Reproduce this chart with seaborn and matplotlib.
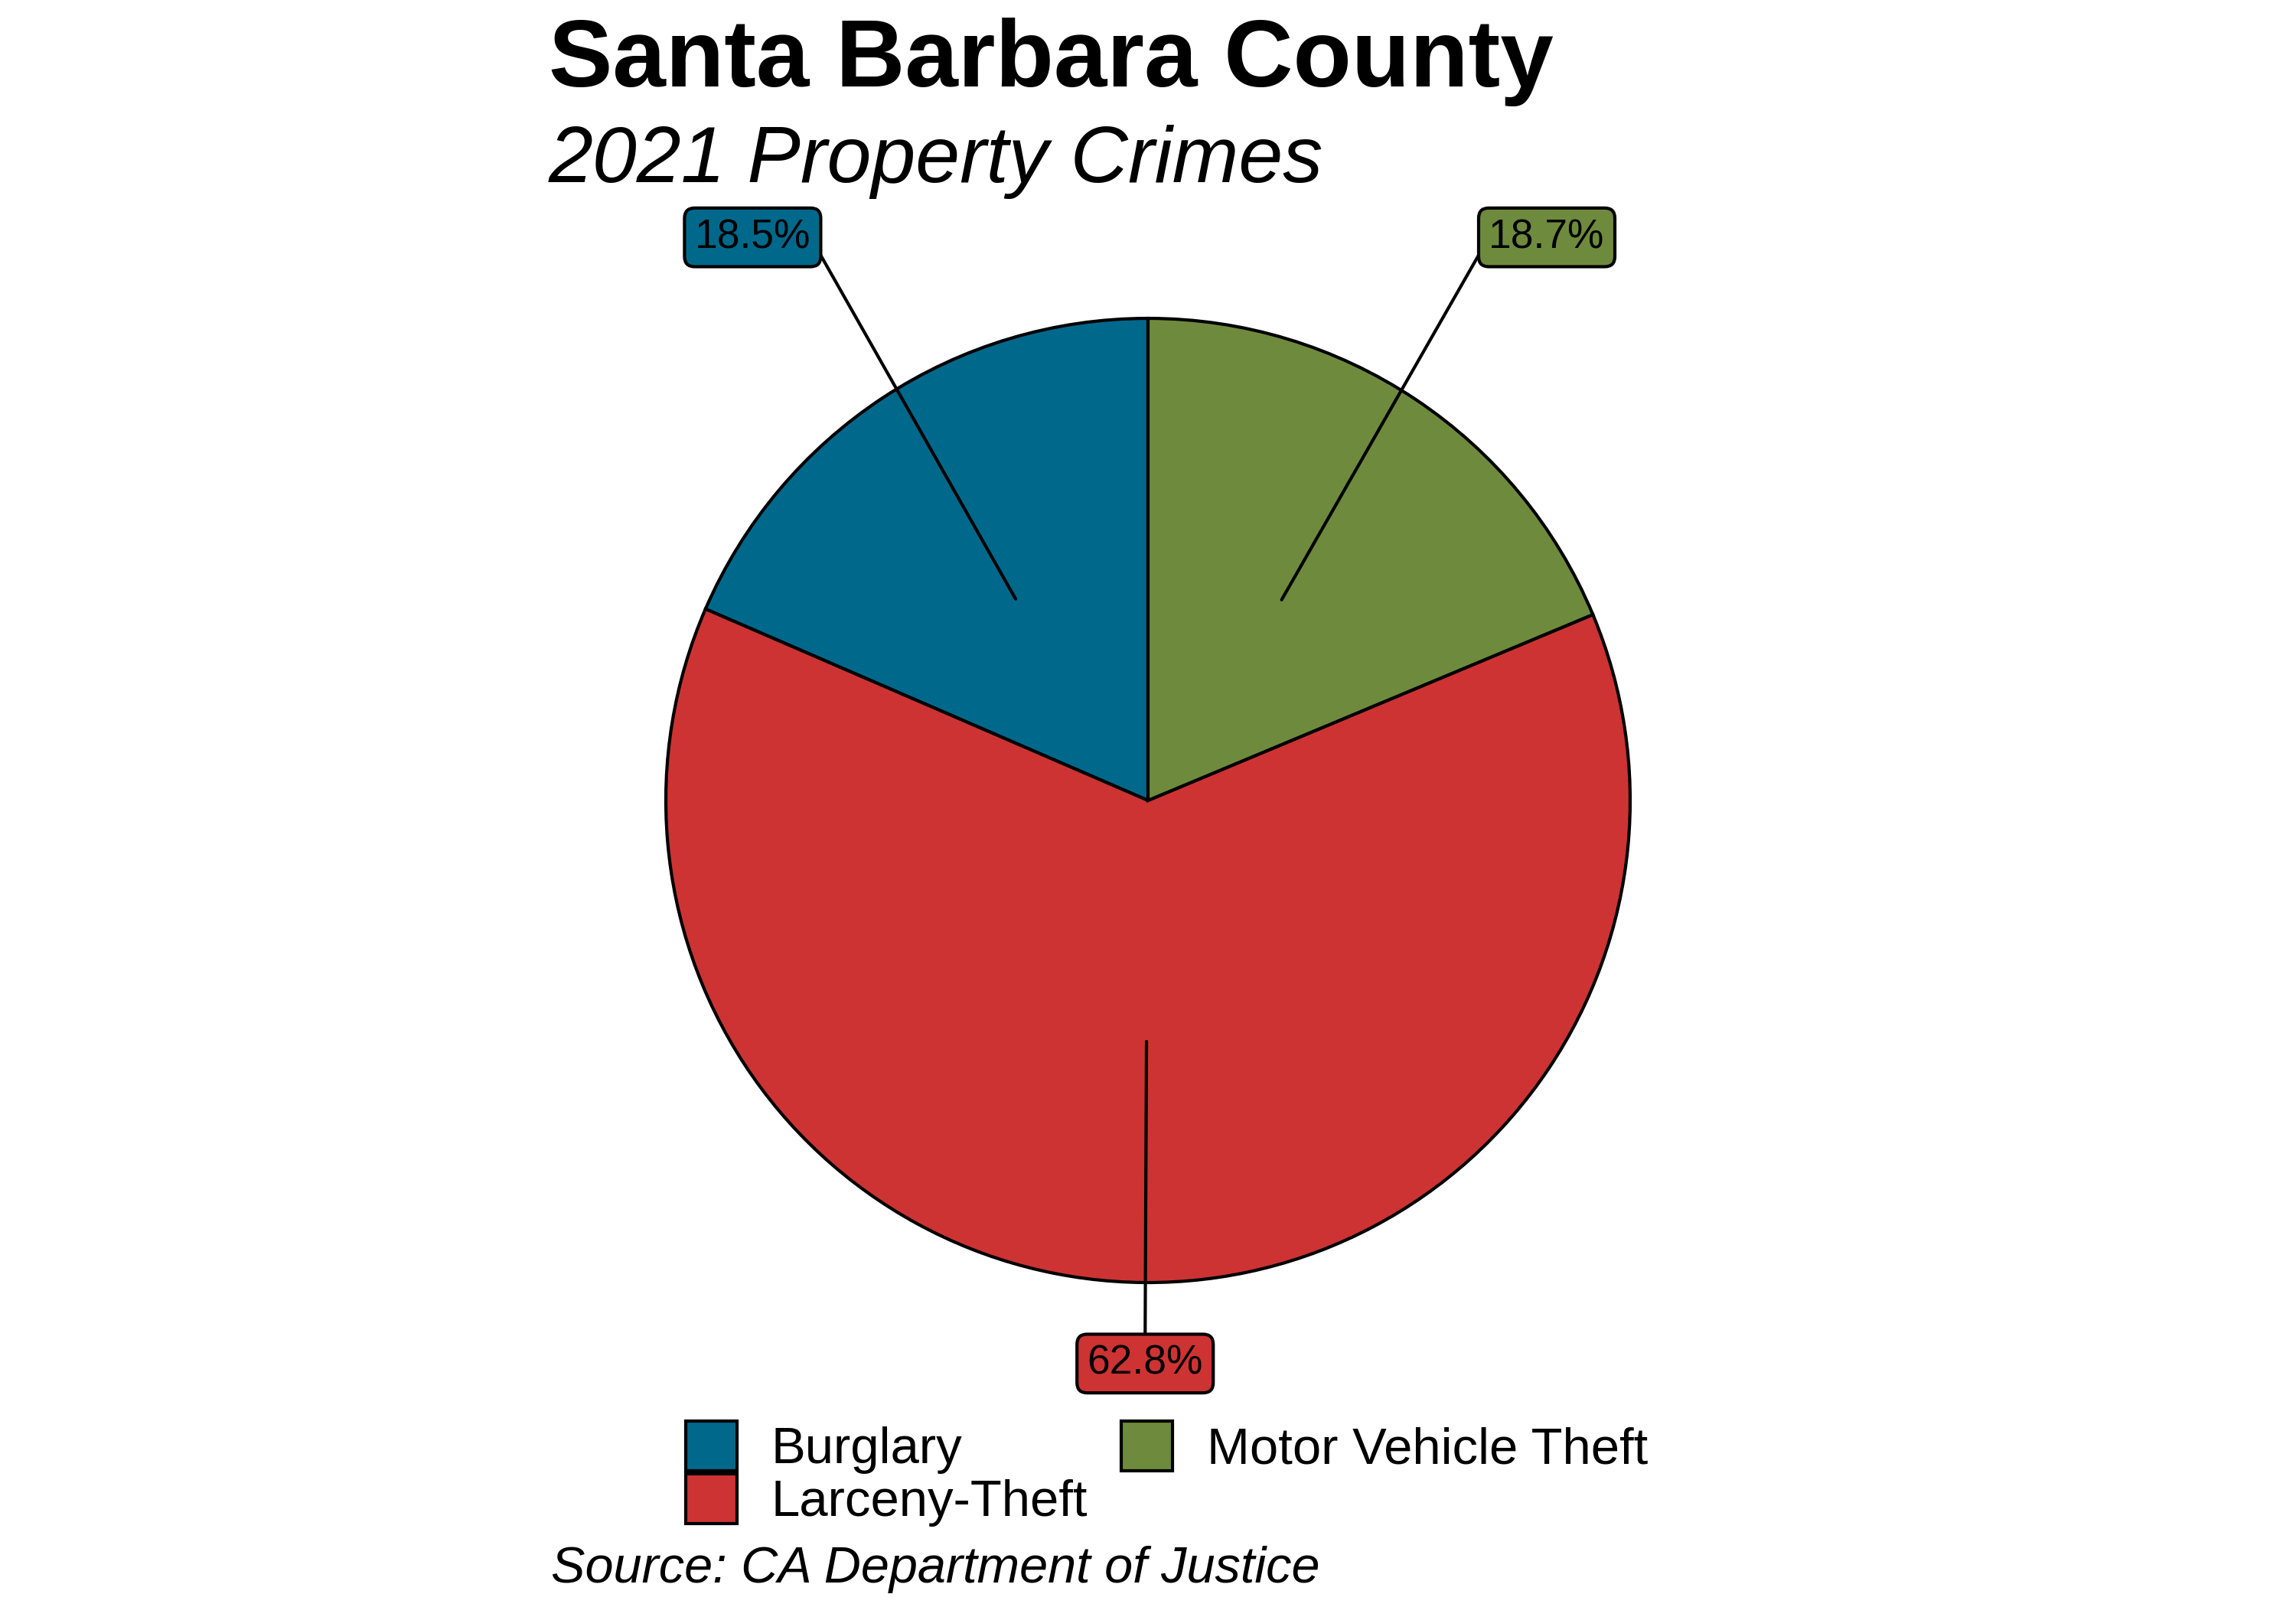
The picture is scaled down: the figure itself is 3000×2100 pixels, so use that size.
import numpy as np
import matplotlib
matplotlib.use("Agg")
import matplotlib.pyplot as plt
import seaborn as sns
from matplotlib.patches import Patch

categories = ["Burglary", "Larceny-Theft", "Motor Vehicle Theft"]
shares = [18.5, 62.8, 18.7]
colors = ["#00688B", "#CD3333", "#6E8B3D"]

# where the repelled labels sit (data units, pie radius = 1)
label_pos = [(-0.82, 1.168), (-0.006, -1.168), (0.827, 1.168)]

sns.set_theme(style="white")
plt.rcParams["font.family"] = ["Liberation Sans", "DejaVu Sans"]
plt.rcParams["text.color"] = "black"

fig = plt.figure(figsize=(10, 7), dpi=300)
ax = fig.add_axes([0.08, 0.0219, 0.84, 0.96])

wedges, _ = ax.pie(shares, colors=colors, startangle=90, counterclock=True,
                   wedgeprops=dict(edgecolor="black", linewidth=1.0))
ax.set_xlim(-2, 2)
ax.set_ylim(-1.6, 1.6)
ax.set_aspect("auto")
ax.axis("off")

for w, val, col, (lx, ly) in zip(wedges, shares, colors, label_pos):
    mid = np.deg2rad((w.theta1 + w.theta2) / 2)
    px, py = 0.5 * np.cos(mid), 0.5 * np.sin(mid)
    # connect the segment to the nearest side of the label box
    if abs(lx) > 0.3:
        rel = (1.0 if lx < 0 else 0.0, 0.5)
    else:
        rel = (0.5, 1.0 if ly < 0 else 0.0)
    ax.annotate(f"{val:.1f}%", xy=(px, py), xytext=(lx, ly),
                ha="center", va="center", fontsize=12.8, color="black",
                bbox=dict(boxstyle="round,pad=0.25,rounding_size=0.25",
                          fc=col, ec="black", lw=1.0),
                arrowprops=dict(arrowstyle="-", color="black", lw=1.0,
                                shrinkA=0, shrinkB=0, relpos=rel))

fig.text(0.239, 0.946, "Santa Barbara County", fontsize=30,
         fontweight="bold", ha="left", va="baseline", color="black")
fig.text(0.239, 0.8867, "2021 Property Crimes", fontsize=25,
         fontstyle="italic", ha="left", va="baseline", color="black")
fig.text(0.240, 0.0152, "Source: CA Department of Justice", fontsize=16,
         fontstyle="italic", ha="left", va="baseline", color="black")

handles = [Patch(facecolor=c, edgecolor="black", linewidth=1.0) for c in colors]
leg = fig.legend(handles, categories, loc="upper left", bbox_to_anchor=(0.2987, 0.1155),
                 ncol=2, frameon=False, fontsize=16.1, borderpad=0, borderaxespad=0,
                 handlelength=1.0, handleheight=1.1, handletextpad=0.66,
                 labelspacing=0.0, columnspacing=0.66)
for t in leg.get_texts():
    t.set_color("black")

fig.savefig("out.png", dpi=300, facecolor="white")
